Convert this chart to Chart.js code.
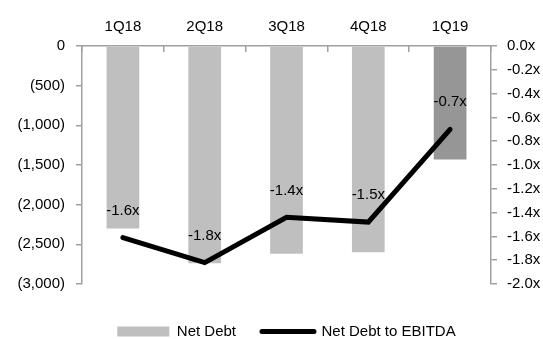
<!DOCTYPE html>
<html>
<head>
<meta charset="utf-8">
<script src="https://cdn.jsdelivr.net/npm/chart.js@4.4.1/dist/chart.umd.min.js"></script>
<style>
  html, body { margin: 0; padding: 0; background: #fff; }
  #wrap { width: 543px; height: 339px; position: relative; }
</style>
</head>
<body>
<div id="wrap"><canvas id="c"></canvas></div>
<script>
const categories = ['1Q18', '2Q18', '3Q18', '4Q18', '1Q19'];
const netDebt = [-2300, -2740, -2620, -2600, -1430];
const netDebtToEbitda = [-1.61, -1.82, -1.44, -1.48, -0.70];
const leftTicks = { min: -3000, max: 0, step: 500 };
const rightTicks = { min: -2.0, max: 0, step: 0.2 };

const barColors = ['#bfbfbf', '#bfbfbf', '#bfbfbf', '#bfbfbf', '#969696'];
const FONT = { family: "'Liberation Sans', Arial, sans-serif", size: 15 };
const AXIS_COLOR = '#a0a0a0';

const lineLabels = {
  id: 'lineLabels',
  afterDatasetsDraw(chart) {
    const ctx = chart.ctx;
    chart.data.datasets.forEach((ds, i) => {
      if (ds.type !== 'line') return;
      const meta = chart.getDatasetMeta(i);
      ctx.save();
      ctx.font = FONT.size + 'px ' + FONT.family;
      ctx.fillStyle = '#000';
      ctx.textAlign = 'center';
      ctx.textBaseline = 'middle';
      meta.data.forEach((pt, j) => {
        ctx.fillText(ds.data[j].toFixed(1) + 'x', pt.x, pt.y - 27);
      });
      ctx.restore();
    });
  }
};

const legendFix = {
  id: 'legendFix',
  afterInit(chart) {
    const lg = chart.legend;
    if (!lg) return;
    const fit = lg.fit;
    lg.fit = function () { fit.call(this); this.height = 55; };
  },
  afterLayout(chart) {
    const lg = chart.legend;
    if (!lg) return;
    lg.top += 14;
    lg.bottom += 14;
  }
};

new Chart(document.getElementById('c'), {
  type: 'bar',
  data: {
    labels: categories,
    datasets: [
      {
        type: 'bar',
        label: 'Net Debt',
        data: netDebt,
        backgroundColor: barColors,
        borderWidth: 0,
        yAxisID: 'y',
        order: 1,
        categoryPercentage: 0.8,
        barPercentage: 0.5
      },
      {
        type: 'line',
        label: 'Net Debt to EBITDA',
        data: netDebtToEbitda,
        borderColor: '#000',
        backgroundColor: '#000',
        borderWidth: 5,
        borderCapStyle: 'round',
        borderJoinStyle: 'miter',
        pointRadius: 0,
        tension: 0,
        yAxisID: 'y2',
        order: 0
      }
    ]
  },
  options: {
    responsive: true,
    maintainAspectRatio: false,
    animation: false,
    layout: { padding: 0 },
    plugins: {
      tooltip: { enabled: false },
      legend: {
        position: 'bottom',
        fullSize: false,
        labels: {
          usePointStyle: true,
          pointStyleWidth: 52,
          boxHeight: 10,
          padding: 26,
          color: '#000',
          font: FONT,
          generateLabels(chart) {
            return chart.data.datasets.map((ds, i) => ({
              text: ds.label,
              fillStyle: ds.type === 'line' ? ds.borderColor : barColors[0],
              strokeStyle: ds.type === 'line' ? ds.borderColor : barColors[0],
              lineWidth: ds.type === 'line' ? 5 : 0,
              lineCap: 'round',
              pointStyle: ds.type === 'line' ? 'line' : 'rect',
              hidden: false,
              datasetIndex: i,
              fontColor: '#000'
            }));
          }
        }
      }
    },
    scales: {
      x: {
        position: 'top',
        offset: true,
        grid: {
          display: true,
          drawOnChartArea: false,
          drawTicks: true,
          tickLength: -6,
          color: AXIS_COLOR,
          lineWidth: 1.5
        },
        border: { display: true, color: AXIS_COLOR, width: 1.5 },
        ticks: { color: '#000', font: FONT, padding: 16, maxRotation: 0, autoSkip: false },
        afterFit(s) { s.height = 46; }
      },
      y: {
        position: 'left',
        min: leftTicks.min,
        max: leftTicks.max,
        grid: { drawOnChartArea: false, tickLength: 6, color: AXIS_COLOR, lineWidth: 1.5 },
        border: { display: true, color: AXIS_COLOR, width: 1.5 },
        ticks: {
          stepSize: leftTicks.step,
          autoSkip: false,
          color: '#000',
          font: FONT,
          padding: 11,
          callback(v) {
            if (v === 0) return '0';
            return '(' + Math.abs(v).toLocaleString('en-US') + ')';
          }
        },
        afterFit(s) { s.width = 82; }
      },
      y2: {
        position: 'right',
        min: rightTicks.min,
        max: rightTicks.max,
        grid: { drawOnChartArea: false, tickLength: 6, color: AXIS_COLOR, lineWidth: 1.5 },
        border: { display: true, color: AXIS_COLOR, width: 1.5 },
        ticks: {
          stepSize: rightTicks.step,
          autoSkip: false,
          color: '#000',
          font: FONT,
          padding: 10,
          callback(v) { return (Math.abs(v) < 1e-9 ? 0 : v).toFixed(1) + 'x'; }
        },
        afterFit(s) { s.width = 52; }
      }
    }
  },
  plugins: [lineLabels, legendFix]
});
</script>
</body>
</html>
